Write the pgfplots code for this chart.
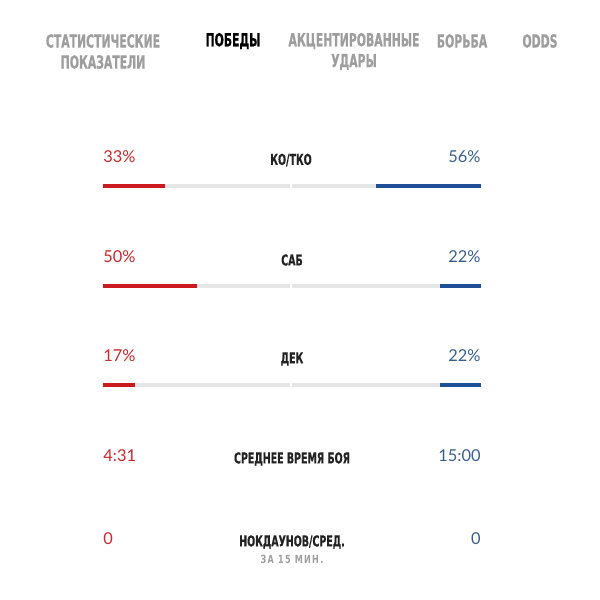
\documentclass[border=0pt]{standalone}
\usepackage{fontspec}
\usepackage{pgfplots}
\usepackage{pgfplotstable}
\pgfplotsset{compat=1.18}
\setmainfont{Lato}
\newfontfamily\cond[FakeStretch=0.67,FakeBold=0.6]{DejaVu Sans Condensed Bold}
\newfontfamily\condl[FakeStretch=0.7,FakeBold=0.4]{DejaVu Sans Condensed Bold}
\newfontfamily\condsp[FakeStretch=0.8,LetterSpace=12]{DejaVu Sans Condensed Bold}
\definecolor{rbar}{HTML}{CC1B1E}
\definecolor{bbar}{HTML}{1F4F98}
\definecolor{gbar}{HTML}{E6E6E6}
\definecolor{rtxt}{HTML}{C62A2E}
\definecolor{btxt}{HTML}{3A5F8E}
\definecolor{htxt}{HTML}{9E9E9E}
\definecolor{ltxt}{HTML}{222222}
% row: pixel row of the bar; left / right: percentages
\pgfplotstableread{
y left right
185.5 33 56
286 50 22
384.5 17 22
}\wins
\begin{document}
\begin{tikzpicture}
\begin{axis}[
  width=300pt, height=300pt, scale only axis,
  xmin=0, xmax=600, ymin=0, ymax=600, y dir=reverse,
  hide axis, clip=false,
]
\fill[white] (axis cs:0,0) rectangle (axis cs:600,600);
% gray tracks
\addplot[draw=none, mark=none, error bars/.cd, x dir=plus, x explicit,
  error mark=none, error bar style={gbar, line width=2pt, line cap=butt}]
  table[x expr=103, y=y, x error expr=187] {\wins};
\addplot[draw=none, mark=none, error bars/.cd, x dir=plus, x explicit,
  error mark=none, error bar style={gbar, line width=2pt, line cap=butt}]
  table[x expr=292, y=y, x error expr=189] {\wins};
% red bars (left fighter)
\addplot[draw=none, mark=none, error bars/.cd, x dir=plus, x explicit,
  error mark=none, error bar style={rbar, line width=2pt, line cap=butt}]
  table[x expr=103, y=y, x error expr=1.88*\thisrow{left}] {\wins};
% blue bars (right fighter)
\addplot[draw=none, mark=none, error bars/.cd, x dir=minus, x explicit,
  error mark=none, error bar style={bbar, line width=2pt, line cap=butt}]
  table[x expr=481, y=y, x error expr=1.88*\thisrow{right}] {\wins};

% header tabs
\begin{scope}[every node/.style={font=\cond\fontsize{9}{10.5}\selectfont, align=center, inner sep=0pt}]
\node[htxt] at (axis cs:103,41) {СТАТИСТИЧЕСКИЕ};
\node[htxt] at (axis cs:103,62) {ПОКАЗАТЕЛИ};
\node[black] at (axis cs:233,41) {ПОБЕДЫ};
\node[htxt] at (axis cs:354,41) {АКЦЕНТИРОВАННЫЕ};
\node[htxt] at (axis cs:354,62) {УДАРЫ};
\node[htxt] at (axis cs:462,41) {БОРЬБА};
\node[htxt] at (axis cs:540,41) {ODDS};
\end{scope}

% center labels
\begin{scope}[every node/.style={font=\condl\fontsize{7.5}{8}\selectfont, ltxt, inner sep=0pt}]
\node at (axis cs:291,160) {КО/ТКО};
\node at (axis cs:292,260) {САБ};
\node at (axis cs:292,359) {ДЕК};
\node at (axis cs:292,459) {СРЕДНЕЕ ВРЕМЯ БОЯ};
\node at (axis cs:292,542) {НОКДАУНОВ/СРЕД.};
\end{scope}
\node[font=\condsp\fontsize{5.6}{6}\selectfont, htxt, inner sep=0pt] at (axis cs:292,559) {ЗА 15 МИН.};

% values
\begin{scope}[every node/.style={font=\fontsize{8.2}{9}\selectfont, inner sep=0pt}]
\node[rtxt, anchor=west] at (axis cs:103,157) {33\%};
\node[btxt, anchor=east] at (axis cs:481,157) {56\%};
\node[rtxt, anchor=west] at (axis cs:103,257) {50\%};
\node[btxt, anchor=east] at (axis cs:481,257) {22\%};
\node[rtxt, anchor=west] at (axis cs:103,356) {17\%};
\node[btxt, anchor=east] at (axis cs:481,356) {22\%};
\node[rtxt, anchor=west] at (axis cs:103,456) {4:31};
\node[btxt, anchor=east] at (axis cs:481,456) {15:00};
\node[rtxt, anchor=west] at (axis cs:103,539) {0};
\node[btxt, anchor=east] at (axis cs:481,539) {0};
\end{scope}
\end{axis}
\end{tikzpicture}
\end{document}
